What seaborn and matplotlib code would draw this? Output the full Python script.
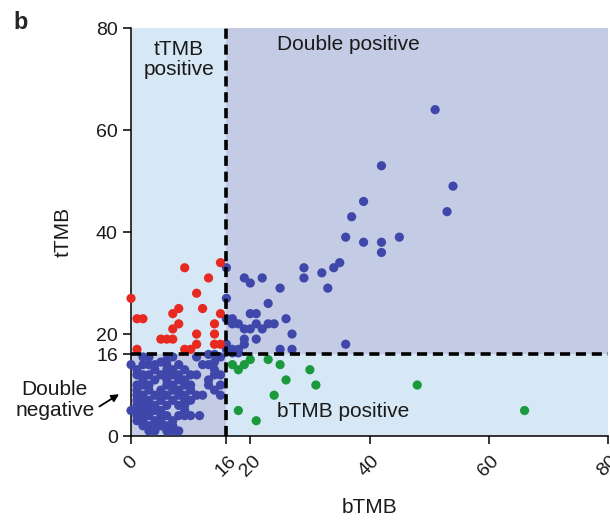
import matplotlib
matplotlib.use("Agg")
import matplotlib.pyplot as plt
import seaborn as sns
import pandas as pd

sns.set_style("ticks")
plt.rcParams["font.family"] = ["Liberation Sans", "DejaVu Sans"]

# Double negative (bTMB < 16, tTMB < 16)
dn_b = [2, 3, 6, 7, 11, 13, 14, 15,
        0, 2, 3, 4, 5, 6, 8, 12, 13, 14,
        1, 4, 6, 7, 9, 14,
        1, 2, 3, 5, 6, 7, 8, 10, 11, 14, 15,
        2, 4, 6, 8, 9, 13,
        1, 2, 3, 6, 7, 9, 10, 13, 15,
        1, 3, 5, 7, 8, 10, 14,
        1, 2, 4, 5, 6, 8, 9, 11, 12, 15,
        1, 2, 3, 5, 7, 9, 10,
        1, 2, 3, 4, 6, 8, 9,
        0, 1, 2, 3, 4, 5, 9,
        1, 2, 3, 5, 6, 8, 9, 10, 11.5,
        1, 2, 4, 5, 7,
        2, 3, 4, 5, 6, 7,
        3, 4, 6, 7, 8]
dn_t = [15.5, 15.5, 15, 15.5, 15.5, 16, 16, 15.5,
        14, 14, 14, 14, 14.5, 14, 14, 14, 14, 14.5,
        13, 13, 13, 13, 13, 13,
        12, 12, 12, 12, 12, 12, 12, 12, 12, 12, 12,
        11, 11, 11, 11, 11, 11,
        10, 10, 10, 10, 10, 10, 10, 10, 10,
        9, 9, 9, 9, 9, 9, 9,
        8, 8, 8, 8, 8, 8, 8, 8, 8, 8,
        7, 7, 7, 7, 7, 7, 7,
        6, 6, 6, 6, 6, 6, 6,
        5, 5, 5, 5, 5, 5, 5,
        4, 4, 4, 4, 4, 4, 4, 4, 4,
        3, 3, 3, 3, 3,
        2, 2, 2, 2, 2, 2,
        1, 1, 1, 1, 1]

# Double positive (bTMB >= 16, tTMB >= 16)
dp_b = [16, 19, 20, 22, 25, 29, 29, 32, 33, 34, 35, 36, 37, 39, 39, 42, 42, 42,
        45, 51, 54, 53, 16, 23, 20, 21, 16, 17, 17, 18, 21, 23, 24, 26, 19, 20,
        22, 27, 16, 19, 19, 21, 17, 18, 25, 27, 36, 17, 18, 16]
dp_t = [33, 31, 30, 31, 29, 33, 31, 32, 29, 33, 34, 39, 43, 46, 38, 53, 38, 36,
        39, 64, 49, 44, 27, 26, 24, 24, 23, 23, 22, 22, 22, 22, 22, 23, 21, 21,
        21, 20, 18, 19, 18, 19, 17, 17, 17, 17, 18, 16.3, 16.3, 17]

# tTMB positive only
tp_b = [0, 1, 2, 1, 5, 6, 7, 7, 7, 8, 8, 9, 9, 10, 11, 11, 11, 12, 13, 14, 14,
        14, 15, 15, 15]
tp_t = [27, 23, 23, 17, 19, 19, 19, 21, 24, 25, 22, 33, 17, 17, 28, 20, 18, 25,
        31, 22, 20, 18, 34, 24, 18]

# bTMB positive only
bp_b = [17, 18, 19, 20, 23, 25, 26, 30, 31, 24, 18, 21, 48, 66]
bp_t = [14, 13, 14, 15, 15, 14, 11, 13, 10, 8, 5, 3, 10, 5]

groups = ["Double negative", "Double positive", "tTMB positive", "bTMB positive"]
df = pd.concat([
    pd.DataFrame({"bTMB": dn_b, "tTMB": dn_t, "group": groups[0]}),
    pd.DataFrame({"bTMB": dp_b, "tTMB": dp_t, "group": groups[1]}),
    pd.DataFrame({"bTMB": tp_b, "tTMB": tp_t, "group": groups[2]}),
    pd.DataFrame({"bTMB": bp_b, "tTMB": bp_t, "group": groups[3]}),
], ignore_index=True)

palette = {"Double negative": "#3f48aa", "Double positive": "#3f48aa",
           "tTMB positive": "#e8291f", "bTMB positive": "#1a9a3c"}

cutoff = 16
light = "#d6e7f5"
dark = "#c4cbe4"

fig = plt.figure(figsize=(6.1, 5.2), dpi=100)
ax = fig.add_axes([0.2148, 0.1615, 0.782, 0.7845])

# quadrant shading
ax.axvspan(0, 80, color=light, lw=0, zorder=0)
ax.fill_between([0, cutoff], 0, cutoff, color=dark, lw=0, zorder=0.5)
ax.fill_between([cutoff, 80], cutoff, 80, color=dark, lw=0, zorder=0.5)

sns.scatterplot(data=df, x="bTMB", y="tTMB", hue="group", palette=palette,
                s=44, linewidth=0, legend=False, ax=ax, zorder=2.6,
                clip_on=False)

ax.axvline(cutoff, color="black", lw=2.6, ls=(0, (2.8, 1.6)), zorder=3)
ax.axhline(cutoff, color="black", lw=2.6, ls=(0, (2.8, 1.6)), zorder=3)

ax.set_xlim(0, 80)
ax.set_ylim(0, 80)
ticks = [0, 16, 20, 40, 60, 80]
ax.set_xticks(ticks)
ax.set_yticks(ticks)
ax.set_xticklabels([str(t) for t in ticks], rotation=45, ha="center",
                   rotation_mode="default", fontsize=14)
ax.set_yticklabels([str(t) for t in ticks], fontsize=14)
ax.tick_params(axis="both", direction="out", length=6, width=1.1, color="black",
               labelcolor="#1a1a1a")
ax.tick_params(axis="x", pad=6)
for side in ("top", "right"):
    ax.spines[side].set_visible(False)
for side in ("left", "bottom"):
    ax.spines[side].set_linewidth(1.1)
    ax.spines[side].set_color("black")

ax.set_xlabel("bTMB", fontsize=15, color="#1a1a1a", labelpad=13)
ax.set_ylabel("tTMB", fontsize=15, color="#1a1a1a", labelpad=17)

ax.text(8, 73.8, "tTMB\npositive", ha="center", va="center", fontsize=15,
        color="#1a1a1a", linespacing=1.1)
ax.text(24.5, 76.7, "Double positive", ha="left", va="center", fontsize=15,
        color="#1a1a1a")
ax.text(24.5, 4.8, "bTMB positive", ha="left", va="center", fontsize=15,
        color="#1a1a1a")
ax.text(-12.8, 7.0, "Double\nnegative", ha="center", va="center",
        fontsize=15, color="#1a1a1a", linespacing=1.15, clip_on=False)
ax.annotate("", xy=(-2.0, 8.2), xycoords="data",
            xytext=(-5.3, 5.8), textcoords="data",
            arrowprops=dict(arrowstyle="-|>", color="black", lw=1.3,
                            mutation_scale=11, shrinkA=0, shrinkB=0),
            annotation_clip=False)

fig.text(0.022, 0.978, "b", fontsize=17, fontweight="bold", ha="left", va="top")

fig.savefig("out.png", dpi=100)
